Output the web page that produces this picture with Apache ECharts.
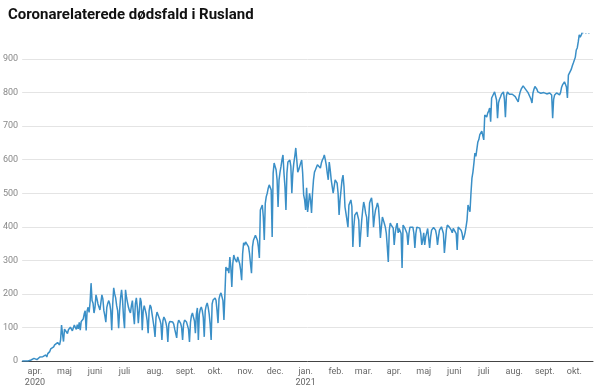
<!DOCTYPE html>
<html>
<head>
<meta charset="utf-8">
<script src="https://cdn.jsdelivr.net/npm/echarts@6/dist/echarts.min.js"></script>
<style>
html,body{margin:0;padding:0;background:#fff;}
#chart{width:600px;height:391px;}
</style>
</head>
<body>
<div id="chart"></div>
<script>
// Title
const titleText = 'Coronarelaterede dødsfald i Rusland';
// First day of series and number of days on the axis
const startDate = '2020-03-19';
const axisDays = 581;
// Danish month labels
const monthNames = ['jan.','feb.','mar.','apr.','maj','juni','juli','aug.','sept.','okt.','nov.','dec.'];
// Y ticks
const yTicks = [0,100,200,300,400,500,600,700,800,900];
// Daily deaths, starting 2020-03-19
const deaths = [
0,0,1,0,1,1,0,2,1,3,
5,2,8,6,10,4,9,5,12,8,
7,13,11,13,18,12,22,24,28,36,
40,33,42,48,45,52,55,60,48,62,
107,80,58,95,90,100,82,93,96,101,
98,90,88,107,100,94,108,96,115,92,
118,122,125,140,150,91,150,160,145,175,
232,180,172,143,160,197,185,170,165,152,
175,197,185,150,135,116,160,172,180,170,
150,92,170,218,200,188,165,150,98,150,
190,212,180,130,98,212,190,175,160,150,
143,165,180,140,110,170,188,160,113,150,
188,175,92,150,165,161,140,120,83,150,
167,160,140,120,100,72,130,146,146,130,
122,110,63,120,131,125,115,100,57,110,
118,122,120,116,110,95,100,69,110,122,
118,112,100,63,110,122,118,116,116,95,
57,115,135,143,131,120,83,140,158,63,
140,155,161,150,130,72,150,165,173,160,
140,110,63,170,182,185,188,180,150,113,
185,197,203,200,180,122,200,280,270,277,
262,310,280,221,290,316,305,300,295,310,
300,290,270,241,320,352,345,355,360,350,
340,320,290,262,340,360,365,375,380,360,
340,307,450,455,465,430,361,470,490,500,
515,525,520,510,370,560,590,580,570,540,
459,540,563,580,600,614,560,520,450,560,
593,590,599,580,500,560,590,610,635,600,
563,570,580,590,599,560,495,480,450,516,
444,470,500,480,441,500,540,563,570,575,
585,590,580,575,590,599,605,614,600,584,
560,540,593,570,540,520,500,520,540,535,
530,500,435,480,510,540,554,520,459,440,
420,399,465,470,480,460,340,400,435,440,
444,444,420,340,380,420,450,474,460,440,
429,370,420,471,480,486,460,399,430,450,
459,471,459,420,367,400,429,420,410,399,
380,340,295,390,411,405,400,396,346,380,
400,411,382,395,400,380,277,405,400,395,
390,380,346,380,399,400,398,399,380,337,
380,399,400,395,396,380,346,360,382,346,
370,382,395,390,337,370,390,395,398,396,
390,375,346,370,390,395,400,405,380,322,
322,390,405,400,399,399,390,382,395,399,
399,380,331,399,400,395,390,380,361,370,
382,400,420,465,455,445,500,545,563,590,
620,610,605,653,660,675,680,685,688,659,
733,730,727,739,745,754,713,784,790,795,
802,800,778,724,770,780,787,795,800,802,
780,727,790,802,800,795,793,790,795,793,
790,788,785,787,772,790,802,810,815,820,
815,812,810,808,800,795,787,780,769,799,
810,818,823,810,802,800,799,798,800,802,
800,798,795,796,795,798,799,797,793,724,
780,793,795,799,797,795,793,800,815,823,
828,832,825,817,784,852,858,861,870,880,
888,888,905,927,933,951,972,965,966,978
];
// Dotted extension after last reported day
const dottedValues = [978,977,977,976,976,976,976,976,976];

// Build categories
const categories = [];
const s = new Date(startDate + 'T00:00:00Z');
for (let i = 0; i < axisDays; i++) {
  const d = new Date(s.getTime() + i * 86400000);
  categories.push(d.toISOString().slice(0,10));
}
const solidData = deaths.slice();
const dottedData = new Array(deaths.length - 1).fill(null).concat(dottedValues);

const chart = echarts.init(document.getElementById('chart'), null, {renderer:'canvas'});
chart.setOption({
  animation: false,
  backgroundColor: '#ffffff',
  title: {
    text: titleText,
    left: 3, top: 3,
    textStyle: {fontFamily: 'Roboto', fontWeight: 'bold', fontSize: 15, color: '#111'}
  },
  grid: {left: 22, right: 7, top: 25.5, bottom: 30, containLabel: false},
  xAxis: {
    type: 'category',
    data: categories,
    boundaryGap: false,
    axisLine: {show: true, lineStyle: {color: '#444', width: 1}},
    axisTick: {show: false},
    splitLine: {show: false},
    axisLabel: {
      interval: function (idx, val) { return val.slice(8) === '01'; },
      formatter: function (val) {
        const y = val.slice(0,4), m = parseInt(val.slice(5,7),10) - 1;
        let t = monthNames[m];
        if ((y === '2020' && m === 3) || (y === '2021' && m === 0)) t += '\n' + y;
        return t;
      },
      fontFamily: 'Roboto', fontSize: 9, color: '#666', margin: 5, lineHeight: 11
    }
  },
  yAxis: {
    type: 'value',
    min: 0, max: 1000, interval: 100,
    axisLine: {show: false},
    axisTick: {show: false},
    axisLabel: {
      showMaxLabel: false,
      fontFamily: 'Roboto', fontSize: 9, color: '#888', margin: 4,
      formatter: function (v) { return yTicks.indexOf(v) >= 0 ? String(v) : ''; }
    },
    splitLine: {show: true, showMaxLine: false, lineStyle: {color: '#e4e4e4', width: 1}}
  },
  series: [
    {
      type: 'line', data: solidData, showSymbol: false, symbol: 'none',
      lineStyle: {color: '#3a8fc7', width: 1.5}, itemStyle: {color: '#3a8fc7'}, z: 3
    },
    {
      type: 'line', data: dottedData, showSymbol: false, symbol: 'none', connectNulls: false,
      lineStyle: {color: '#9cc3de', width: 1, type: [1.5, 1.5]}, z: 2
    }
  ]
});
</script>
</body>
</html>
